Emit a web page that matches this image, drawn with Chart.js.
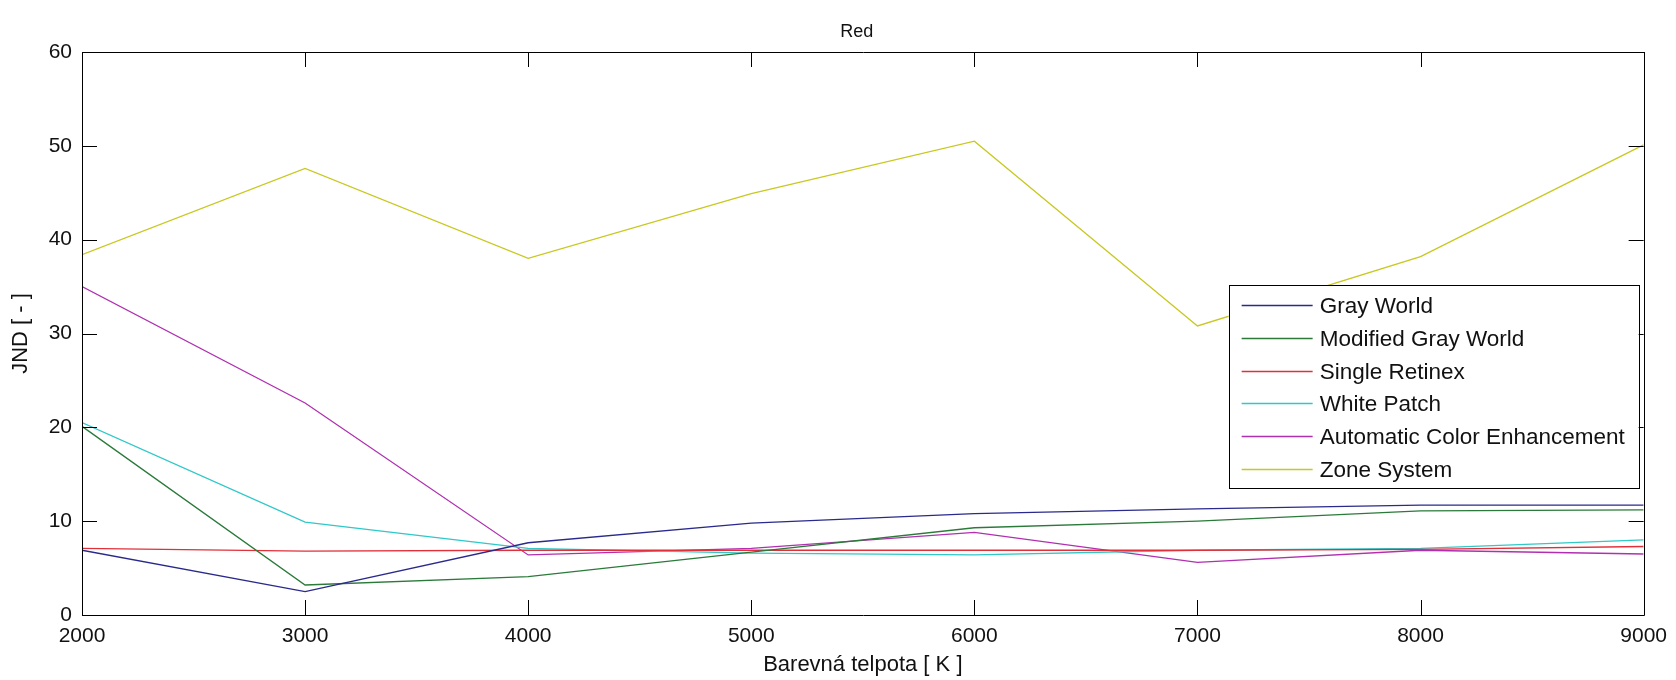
<!DOCTYPE html>
<html>
<head>
<meta charset="utf-8">
<script src="https://cdn.jsdelivr.net/npm/chart.js@4/dist/chart.umd.min.js"></script>
<style>
  html, body { margin: 0; padding: 0; background: #ffffff; }
  #c { display: block; }
</style>
</head>
<body>
<canvas id="c" width="1676" height="680"></canvas>
<script>
// ---- data ----
const temperatures = [2000, 3000, 4000, 5000, 6000, 7000, 8000, 9000];
const grayWorld = [6.9, 2.5, 7.7, 9.8, 10.8, 11.3, 11.7, 11.7];
const modifiedGrayWorld = [20.1, 3.2, 4.1, 6.7, 9.3, 10.0, 11.1, 11.2];
const singleRetinex = [7.1, 6.8, 6.9, 6.9, 6.9, 6.9, 7.0, 7.3];
const whitePatch = [20.5, 9.9, 7.1, 6.6, 6.4, 6.9, 7.1, 8.0];
const automaticColorEnhancement = [35.0, 22.6, 6.4, 7.1, 8.8, 5.6, 6.9, 6.5];
const zoneSystem = [38.4, 47.6, 38.0, 44.9, 50.5, 30.8, 38.2, 50.1];

const seriesNames = ['Gray World', 'Modified Gray World', 'Single Retinex', 'White Patch', 'Automatic Color Enhancement', 'Zone System'];
const seriesValues = [grayWorld, modifiedGrayWorld, singleRetinex, whitePatch, automaticColorEnhancement, zoneSystem];
const seriesColors = ['#2a2a8c', '#2b7a3a', '#e0303a', '#30c8c8', '#b030b0', '#c8c820'];

const xTicks = [2000, 3000, 4000, 5000, 6000, 7000, 8000, 9000];
const yTicks = [0, 10, 20, 30, 40, 50, 60];

const chartTitle = 'Red';
const xTitle = 'Barevná telpota [ K ]';
const yTitle = 'JND [ - ]';

const FONT = '"Liberation Sans", Arial, Helvetica, sans-serif';

const datasets = seriesNames.map((name, i) => ({
  label: name,
  data: temperatures.map((t, j) => ({ x: t, y: seriesValues[i][j] })),
  borderColor: seriesColors[i],
  backgroundColor: seriesColors[i],
  borderWidth: 1.3,
  pointRadius: 0,
  tension: 0,
  fill: false
}));

// Frame with inward ticks (MATLAB style) + title centred over the plot area
const framePlugin = {
  id: 'frame',
  afterDatasetsDraw(chart) {
    const { ctx, chartArea: a, scales: { x, y } } = chart;
    const len = 15;
    ctx.save();
    ctx.strokeStyle = '#000000';
    ctx.lineWidth = 1;
    ctx.beginPath();
    ctx.rect(Math.round(a.left) + 0.5, Math.round(a.top) + 0.5, Math.round(a.right - a.left), Math.round(a.bottom - a.top));
    ctx.stroke();
    ctx.beginPath();
    xTicks.forEach(v => {
      const px = Math.round(x.getPixelForValue(v)) + 0.5;
      ctx.moveTo(px, a.bottom); ctx.lineTo(px, a.bottom - len);
      ctx.moveTo(px, a.top); ctx.lineTo(px, a.top + len);
    });
    yTicks.forEach(v => {
      const py = Math.round(y.getPixelForValue(v)) + 0.5;
      ctx.moveTo(a.left, py); ctx.lineTo(a.left + len, py);
      ctx.moveTo(a.right, py); ctx.lineTo(a.right - len, py);
    });
    ctx.stroke();
    ctx.fillStyle = '#111111';
    ctx.font = '18px ' + FONT;
    ctx.textAlign = 'center';
    ctx.textBaseline = 'middle';
    ctx.fillText(chartTitle, (a.left + a.right) / 2 - 6, a.top - 20);
    ctx.restore();
  }
};

// Legend box inside plot, top-right area
const legendPlugin = {
  id: 'boxLegend',
  afterDraw(chart) {
    const { ctx, chartArea: a } = chart;
    const right = a.right - 5;
    const width = 410;
    const left = right - width;
    const top = a.top + 233;
    const rowH = 32.8;
    const n = chart.data.datasets.length;
    const height = rowH * n + 6;
    ctx.save();
    ctx.fillStyle = '#ffffff';
    ctx.fillRect(left, top, width, height);
    ctx.strokeStyle = '#000000';
    ctx.lineWidth = 1;
    ctx.strokeRect(Math.round(left) + 0.5, Math.round(top) + 0.5, Math.round(width), Math.round(height));
    ctx.font = '22.5px ' + FONT;
    ctx.textBaseline = 'middle';
    ctx.textAlign = 'left';
    chart.data.datasets.forEach((ds, i) => {
      const cy = Math.round(top + 20 + i * rowH) + 0.5;
      ctx.strokeStyle = ds.borderColor;
      ctx.lineWidth = 1.3;
      ctx.beginPath();
      ctx.moveTo(left + 13, cy);
      ctx.lineTo(left + 84, cy);
      ctx.stroke();
      ctx.fillStyle = '#111111';
      ctx.fillText(ds.label, left + 91, cy + 1);
    });
    ctx.restore();
  }
};

new Chart(document.getElementById('c'), {
  type: 'line',
  data: { datasets },
  plugins: [framePlugin, legendPlugin],
  options: {
    responsive: false,
    animation: false,
    devicePixelRatio: 1,
    layout: { padding: { left: 0, right: 28, top: 52, bottom: 0 } },
    plugins: {
      legend: { display: false },
      tooltip: { enabled: false },
      title: { display: false }
    },
    scales: {
      x: {
        type: 'linear',
        min: 2000,
        max: 9000,
        afterFit(scale) { scale.height = 65; },
        afterBuildTicks(scale) { scale.ticks = xTicks.map(v => ({ value: v })); },
        grid: { display: false, drawTicks: false },
        border: { display: false },
        ticks: {
          padding: 9,
          color: '#111111',
          font: { family: FONT, size: 21 },
          maxRotation: 0,
          autoSkip: false,
          callback: v => String(v)
        },
        title: {
          display: true,
          text: xTitle,
          color: '#111111',
          font: { family: FONT, size: 22 },
          padding: { top: 0, bottom: 2 }
        }
      },
      y: {
        type: 'linear',
        min: 0,
        max: 60,
        afterFit(scale) { scale.width = 82; },
        afterBuildTicks(scale) { scale.ticks = yTicks.map(v => ({ value: v })); },
        grid: { display: false, drawTicks: false },
        border: { display: false },
        ticks: {
          padding: 10,
          color: '#111111',
          font: { family: FONT, size: 21 },
          autoSkip: false,
          callback: v => String(v)
        },
        title: {
          display: true,
          text: yTitle,
          color: '#111111',
          font: { family: FONT, size: 22 },
          padding: { top: 8, bottom: 0 }
        }
      }
    }
  }
});
</script>
</body>
</html>
